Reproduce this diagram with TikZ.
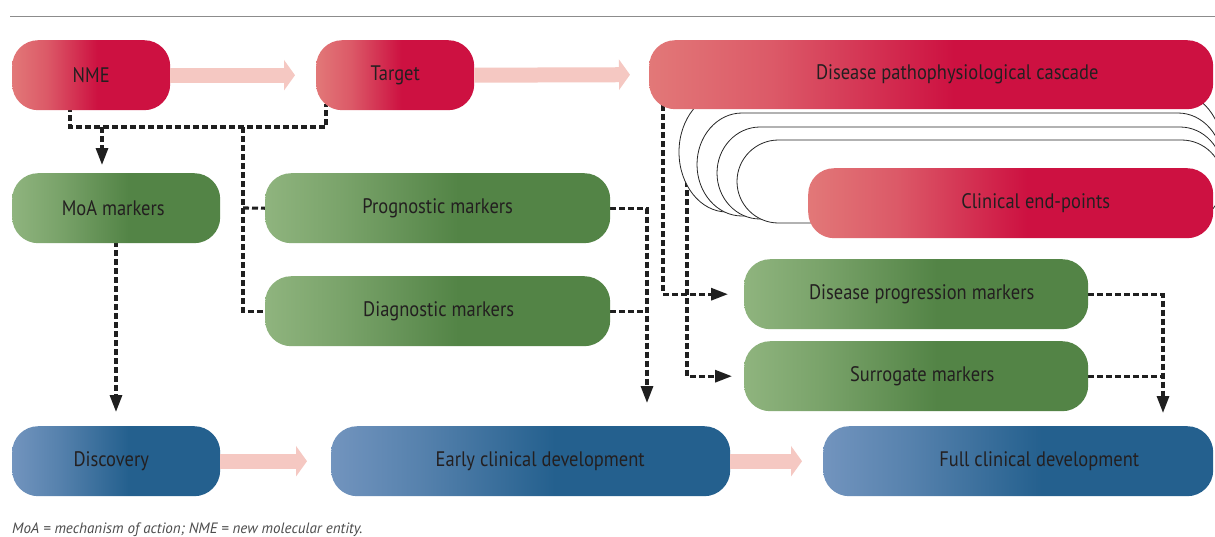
\documentclass[tikz,border=0pt]{standalone}
\usepackage{fontspec}
\setmainfont{PT Sans}
\newfontfamily\bxf[FakeStretch=0.88]{PT Sans}
\usetikzlibrary{arrows.meta,calc}
\pgfdeclarelayer{bg}
\pgfsetlayers{bg,main}
\definecolor{redD}{RGB}{205,17,65}
\definecolor{redL}{RGB}{226,120,120}
\definecolor{grnD}{RGB}{83,132,70}
\definecolor{grnL}{RGB}{143,180,126}
\definecolor{bluD}{RGB}{36,96,142}
\definecolor{bluL}{RGB}{114,148,190}
\definecolor{pinkA}{RGB}{245,200,194}
\definecolor{txt}{RGB}{35,31,32}
\pgfdeclarehorizontalshading{redsh}{100bp}{color(0bp)=(redL); color(25bp)=(redL); color(36bp)=(redL!70!redD); color(52bp)=(redD); color(100bp)=(redD)}
\pgfdeclarehorizontalshading{grnsh}{100bp}{color(0bp)=(grnL); color(25bp)=(grnL); color(36bp)=(grnL!65!grnD); color(53bp)=(grnD); color(100bp)=(grnD)}
\pgfdeclarehorizontalshading{blush}{100bp}{color(0bp)=(bluL); color(25bp)=(bluL); color(36bp)=(bluL!65!bluD); color(53bp)=(bluD); color(100bp)=(bluD)}
\tikzset{
  box/.style={rounded corners=26pt, minimum height=70pt, inner sep=0pt, anchor=north west,
    font=\bxf\fontsize{21}{23}\selectfont, text=txt},
  redbox/.style={box, shading=redsh},
  grnbox/.style={box, shading=grnsh},
  blubox/.style={box, shading=blush},
  conn/.style={draw=black!88, line width=3.1pt, dash pattern=on 6pt off 3pt},
  tip/.style={-{Triangle[length=17pt,width=12pt]}},
  pinkarrow/.style={draw=pinkA, line width=15pt, -{Triangle[length=11pt,width=30pt]}},
  card/.style={draw=black!85, line width=0.8pt, fill=white},
}
\begin{document}
\begin{tikzpicture}[x=1pt,y=-1pt]
\useasboundingbox (0,0) rectangle (1215,536);
\clip (0,0) rectangle (1215,536);
\begin{pgfonlayer}{bg}
\fill[white] (0,0) rectangle (1215,536);
\end{pgfonlayer}
\draw[black!45, line width=1pt] (10,16) -- (1215,16);

% process boxes
\node[redbox, minimum width=158pt] (nme) at (12,40) {NME};
\node[redbox, minimum width=158pt] (target) at (316,40) {Target};
\node[grnbox, minimum width=208pt] (moa) at (12,173) {\hspace*{-6pt}MoA markers};
\node[grnbox, minimum width=345pt] (prog) at (265,173) {Prognostic markers};
\node[grnbox, minimum width=345pt] (diag) at (265,276) {\hspace*{2pt}Diagnostic markers};
\node[grnbox, minimum width=344pt] (dprog) at (744,259) {\hspace*{11pt}Disease progression markers};
\node[grnbox, minimum width=344pt] (surr) at (744,341) {\hspace*{12pt}Surrogate markers};
\node[blubox, minimum width=208pt] (disc) at (12,426) {\hspace*{-10pt}Discovery};
\node[blubox, minimum width=399pt] (early) at (331,426) {\hspace*{19pt}Early clinical development};
\node[blubox, minimum width=390pt] (full) at (823,426) {\hspace*{42pt}Full clinical development};

% stacked outline cards behind the clinical end-points box
\foreach \xl/\yt/\yb/\rx in {679/92/212/48, 697/113/216/45, 717/127/219/43, 737/140/223/41.5}{
  \pgfmathsetmacro{\ry}{(\yb-\yt)/2}
  \draw[card] (\xl+\rx,\yt) -- (1223-\rx,\yt)
     arc[start angle=90,end angle=-90,x radius=\rx pt,y radius=\ry pt]
     -- (\xl+\rx,\yb)
     arc[start angle=270,end angle=90,x radius=\rx pt,y radius=\ry pt] -- cycle;
}
\node[redbox, minimum width=405pt] (clin) at (808,168) {\hspace*{50pt}Clinical end-points};
\node[redbox, minimum width=564pt, minimum height=69pt] (casc) at (649,40) {\hspace*{52pt}Disease pathophysiological cascade};

% junction coordinates
\coordinate (jM) at (102,127);
\coordinate (jB) at (243,127);
\coordinate (jP) at (243,208);
\coordinate (jR) at (326,127);
\coordinate (sTop) at (716,183);
\coordinate (eTip) at ($(early.north west)+(316,-23)$);
\coordinate (fTip) at ($(full.north west)+(340,-13)$);

% dashed connectors (behind the boxes)
\begin{pgfonlayer}{bg}
\draw[conn] ($(nme.south west)+(58,-4)$) |- (jR) -- ($(target.south west)+(10,-6)$);
\draw[conn, tip] (jM) -- ($(moa.north west)+(90,-8)$);
\draw[conn] (jB) |- (diag.west);
\draw[conn] (jP) -- (prog.west);
\draw[conn, tip] ($(moa.south west)+(104,-2)$) -- ($(disc.north west)+(104,-14)$);
\draw[conn, tip] (prog.east) -| (eTip);
\draw[conn] (diag.east) -- (diag.east -| eTip);
\draw[conn, tip] (dprog.east) -| (fTip);
\draw[conn] (surr.east) -- (surr.east -| fTip);
\draw[conn, tip] (sTop) -| ($(surr.west)+(-57,0)$) -- ($(surr.west)+(-12,0)$);
\draw[conn, tip] ($(casc.south west)+(14,-4)$) |- ($(dprog.west)+(-16,0)$);
\end{pgfonlayer}

% pink process arrows
\draw[pinkarrow] (nme.east) -- ($(target.west)+(-21,0)$);
\draw[pinkarrow] (target.east) -- ($(casc.west)+(-19,0)$);
\draw[pinkarrow] (disc.east) -- ($(early.west)+(-24,0)$);
\draw[pinkarrow] (early.east) -- ($(full.west)+(-21,0)$);

\node[anchor=base west, inner sep=0pt, font=\itshape\fontsize{15}{17}\selectfont, text=black!70] (cap) at (12,533) {MoA = mechanism of action; NME = new molecular entity.};
\end{tikzpicture}
\end{document}
